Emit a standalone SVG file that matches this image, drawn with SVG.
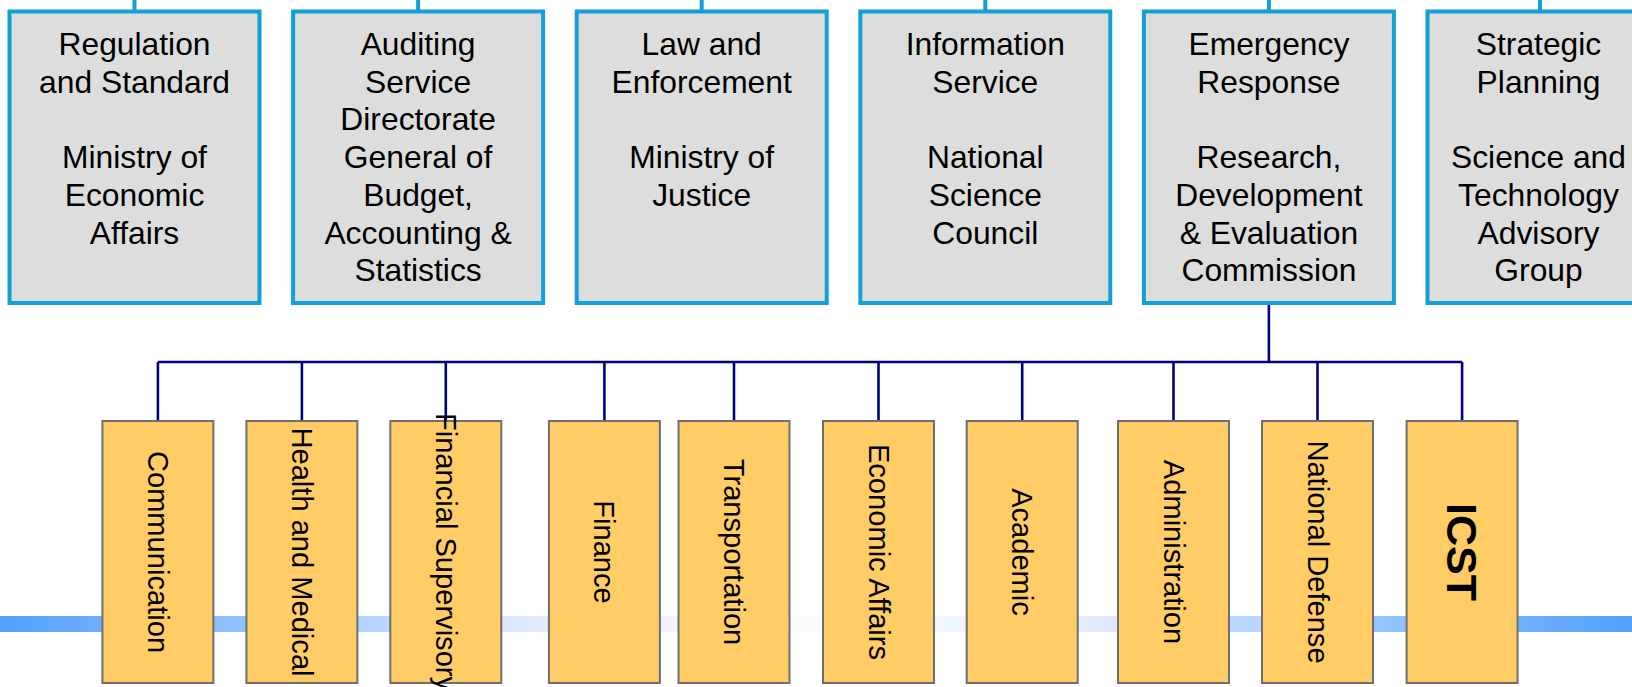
<svg xmlns="http://www.w3.org/2000/svg" width="1632" height="687" viewBox="0 0 1632 687">
<defs>
<linearGradient id="bar" x1="0" y1="0" x2="1632" y2="0" gradientUnits="userSpaceOnUse">
<stop offset="0" stop-color="#52A0FF"/>
<stop offset="0.34" stop-color="#E6EEFF"/>
<stop offset="0.5" stop-color="#FAFCFF"/>
<stop offset="0.66" stop-color="#E6EEFF"/>
<stop offset="1" stop-color="#52A0FF"/>
</linearGradient>
<style>
.top{fill:#DDDDDD;stroke:#12A0D5;stroke-width:4}
.bot{fill:#FFCC66;stroke:#6E6E6E;stroke-width:2}
.tt{font-family:"Liberation Sans",Arial,sans-serif;font-size:31.8px;fill:#000;text-anchor:middle}
.vt{font-family:"Liberation Sans",Arial,sans-serif;font-size:29.1px;fill:#000;text-anchor:middle;dominant-baseline:central}
.vb{font-family:"Liberation Sans",Arial,sans-serif;font-size:43px;font-weight:bold;fill:#000;text-anchor:middle;dominant-baseline:central}
.stub{stroke:#12A0D5;stroke-width:4;fill:none}
.nav{stroke:#000080;stroke-width:2.6;fill:none}
</style>
</defs>
<rect x="0" y="616" width="1632" height="16" fill="url(#bar)"/>
<g id="connectors">
<line class="stub" x1="134.5" y1="0" x2="134.5" y2="11.5"/>
<line class="stub" x1="418.1" y1="0" x2="418.1" y2="11.5"/>
<line class="stub" x1="701.7" y1="0" x2="701.7" y2="11.5"/>
<line class="stub" x1="985.3" y1="0" x2="985.3" y2="11.5"/>
<line class="stub" x1="1268.9" y1="0" x2="1268.9" y2="11.5"/>
<line class="stub" x1="1540" y1="0" x2="1540" y2="11.5"/>
<line class="nav" x1="1268.9" y1="303" x2="1268.9" y2="362"/>
<line class="nav" x1="157.9" y1="362" x2="1462.1" y2="362"/>
<line class="nav" x1="157.9" y1="362" x2="157.9" y2="421"/>
<line class="nav" x1="301.9" y1="362" x2="301.9" y2="421"/>
<line class="nav" x1="445.8" y1="362" x2="445.8" y2="426"/>
<line class="nav" x1="604.4" y1="362" x2="604.4" y2="421"/>
<line class="nav" x1="734" y1="362" x2="734" y2="421"/>
<line class="nav" x1="878.5" y1="362" x2="878.5" y2="421"/>
<line class="nav" x1="1022.2" y1="362" x2="1022.2" y2="421"/>
<line class="nav" x1="1173.5" y1="362" x2="1173.5" y2="421"/>
<line class="nav" x1="1317.5" y1="362" x2="1317.5" y2="421"/>
<line class="nav" x1="1462.1" y1="362" x2="1462.1" y2="421"/>
</g>
<g id="regulation">
<rect class="top" x="9.5" y="11.5" width="250" height="291.5"/>
<text class="tt"><tspan x="134.5" y="55">Regulation</tspan><tspan x="134.5" y="92.7">and Standard</tspan><tspan x="134.5" y="168.1">Ministry of</tspan><tspan x="134.5" y="205.8">Economic</tspan><tspan x="134.5" y="243.5">Affairs</tspan></text>
</g>
<g id="auditing">
<rect class="top" x="293.1" y="11.5" width="250" height="291.5"/>
<text class="tt"><tspan x="418.1" y="55">Auditing</tspan><tspan x="418.1" y="92.7">Service</tspan><tspan x="418.1" y="130.4">Directorate</tspan><tspan x="418.1" y="168.1">General of</tspan><tspan x="418.1" y="205.8">Budget,</tspan><tspan x="418.1" y="243.5">Accounting &amp;</tspan><tspan x="418.1" y="281.2">Statistics</tspan></text>
</g>
<g id="law">
<rect class="top" x="576.7" y="11.5" width="250" height="291.5"/>
<text class="tt"><tspan x="701.7" y="55">Law and</tspan><tspan x="701.7" y="92.7">Enforcement</tspan><tspan x="701.7" y="168.1">Ministry of</tspan><tspan x="701.7" y="205.8">Justice</tspan></text>
</g>
<g id="information">
<rect class="top" x="860.3" y="11.5" width="250" height="291.5"/>
<text class="tt"><tspan x="985.3" y="55">Information</tspan><tspan x="985.3" y="92.7">Service</tspan><tspan x="985.3" y="168.1">National</tspan><tspan x="985.3" y="205.8">Science</tspan><tspan x="985.3" y="243.5">Council</tspan></text>
</g>
<g id="emergency">
<rect class="top" x="1143.9" y="11.5" width="250" height="291.5"/>
<text class="tt"><tspan x="1268.9" y="55">Emergency</tspan><tspan x="1268.9" y="92.7">Response</tspan><tspan x="1268.9" y="168.1">Research,</tspan><tspan x="1268.9" y="205.8">Development</tspan><tspan x="1268.9" y="243.5">&amp; Evaluation</tspan><tspan x="1268.9" y="281.2">Commission</tspan></text>
</g>
<g id="strategic">
<rect class="top" x="1427.5" y="11.5" width="226" height="291.5"/>
<text class="tt"><tspan x="1538.5" y="55">Strategic</tspan><tspan x="1538.5" y="92.7">Planning</tspan><tspan x="1538.5" y="168.1">Science and</tspan><tspan x="1538.5" y="205.8">Technology</tspan><tspan x="1538.5" y="243.5">Advisory</tspan><tspan x="1538.5" y="281.2">Group</tspan></text>
</g>
<g id="communication">
<rect class="bot" x="102.4" y="421" width="111" height="262"/>
<text class="vt" transform="translate(157.9,552) rotate(90)">Communication</text>
</g>
<g id="health">
<rect class="bot" x="246.4" y="421" width="111" height="262"/>
<text class="vt" transform="translate(301.9,552) rotate(90)">Health and Medical</text>
</g>
<g id="financial-supervisory">
<rect class="bot" x="390.3" y="421" width="111" height="262"/>
<text class="vt" transform="translate(445.8,552) rotate(90)">Financial Supervisory</text>
</g>
<g id="finance">
<rect class="bot" x="548.9" y="421" width="111" height="262"/>
<text class="vt" transform="translate(604.4,552) rotate(90)">Finance</text>
</g>
<g id="transportation">
<rect class="bot" x="678.5" y="421" width="111" height="262"/>
<text class="vt" transform="translate(734,552) rotate(90)">Transportation</text>
</g>
<g id="economic-affairs">
<rect class="bot" x="823" y="421" width="111" height="262"/>
<text class="vt" transform="translate(878.5,552) rotate(90)">Economic Affairs</text>
</g>
<g id="academic">
<rect class="bot" x="966.7" y="421" width="111" height="262"/>
<text class="vt" transform="translate(1022.2,552) rotate(90)">Academic</text>
</g>
<g id="administration">
<rect class="bot" x="1118" y="421" width="111" height="262"/>
<text class="vt" transform="translate(1173.5,552) rotate(90)">Administration</text>
</g>
<g id="national-defense">
<rect class="bot" x="1262" y="421" width="111" height="262"/>
<text class="vt" transform="translate(1317.5,552) rotate(90)">National Defense</text>
</g>
<g id="icst">
<rect class="bot" x="1406.6" y="421" width="111" height="262"/>
<text class="vb" transform="translate(1462.1,552) rotate(90)">ICST</text>
</g>
</svg>
